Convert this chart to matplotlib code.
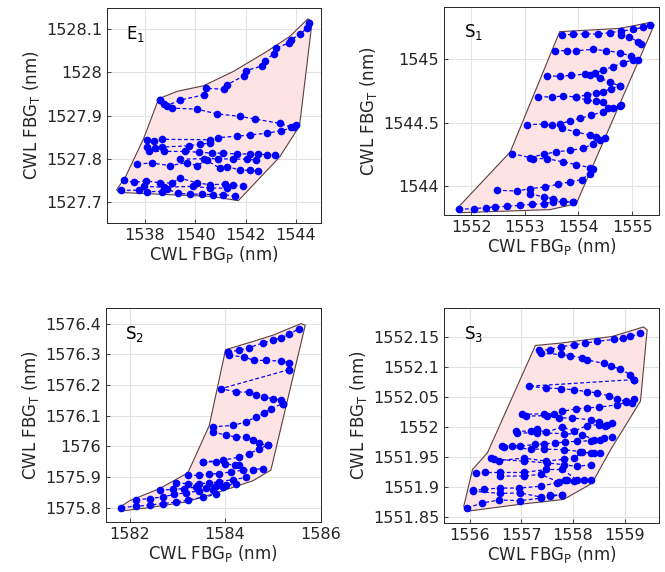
import matplotlib
matplotlib.use("Agg")
import matplotlib.pyplot as plt

plt.rcParams['font.family'] = ['DejaVu Sans']

# ---------------- E1 ----------------
E1_poly_x = [1538.55, 1539.28, 1540.33, 1541.51, 1542.83, 1543.75, 1544.47, 1544.64, 1544.14, 1543.35, 1541.71, 1540.59, 1538.88, 1536.97, 1536.88, 1537.24, 1537.96]
E1_poly_y = [1527.939, 1527.956, 1527.969, 1528.002, 1528.048, 1528.083, 1528.124, 1528.118, 1527.876, 1527.804, 1527.703, 1527.713, 1527.717, 1527.722, 1527.728, 1527.759, 1527.848]
E1_rows_x = [
    [1538.62, 1538.88, 1539.41, 1540.35, 1540.43, 1541.14, 1541.25, 1541.93, 1542.01, 1542.67, 1542.75, 1543.12, 1543.19, 1543.72, 1543.80, 1544.14, 1544.43, 1544.51],
    [1538.62, 1538.75, 1539.08, 1540.06, 1540.85, 1541.77, 1542.37, 1543.35, 1543.81, 1544.01],
    [1538.09, 1538.35, 1538.68, 1540.59, 1540.92, 1541.64, 1542.17, 1542.83, 1543.42, 1543.94],
    [1538.09, 1538.40, 1538.68, 1539.74, 1540.20, 1540.59],
    [1538.16, 1538.75, 1539.60, 1540.13, 1540.66, 1541.12, 1541.64, 1542.17, 1542.50, 1542.83, 1543.15],
    [1539.41, 1540.33, 1540.92, 1541.51, 1542.04, 1542.43],
    [1537.70, 1538.29, 1539.01, 1539.67, 1540.06, 1540.46, 1540.98, 1541.25, 1541.77, 1542.17, 1542.50],
    [1537.17, 1537.57, 1538.03, 1538.62, 1539.08, 1539.41, 1540.06, 1540.59, 1541.18, 1541.51, 1541.91],
    [1537.96, 1538.75, 1539.93, 1540.59, 1541.25],
    [1537.04, 1537.76, 1538.09, 1538.68, 1538.88, 1539.30, 1539.80, 1540.26, 1540.72, 1541.12, 1541.58],
]
E1_rows_y = [
    [1527.936, 1527.923, 1527.936, 1527.948, 1527.963, 1527.961, 1527.971, 1527.992, 1528.004, 1528.015, 1528.027, 1528.043, 1528.056, 1528.068, 1528.075, 1528.088, 1528.102, 1528.115],
    [1527.936, 1527.927, 1527.917, 1527.915, 1527.904, 1527.898, 1527.892, 1527.882, 1527.873, 1527.878],
    [1527.844, 1527.840, 1527.845, 1527.844, 1527.849, 1527.852, 1527.855, 1527.859, 1527.865, 1527.873],
    [1527.828, 1527.824, 1527.827, 1527.830, 1527.834, 1527.836],
    [1527.817, 1527.817, 1527.817, 1527.815, 1527.813, 1527.813, 1527.811, 1527.811, 1527.811, 1527.809, 1527.809],
    [1527.799, 1527.800, 1527.800, 1527.799, 1527.799, 1527.797],
    [1527.788, 1527.790, 1527.784, 1527.791, 1527.784, 1527.796, 1527.778, 1527.782, 1527.774, 1527.773, 1527.772],
    [1527.751, 1527.745, 1527.749, 1527.744, 1527.744, 1527.755, 1527.744, 1527.740, 1527.741, 1527.739, 1527.738],
    [1527.736, 1527.734, 1527.736, 1527.732, 1527.732],
    [1527.727, 1527.727, 1527.724, 1527.724, 1527.730, 1527.720, 1527.718, 1527.718, 1527.717, 1527.717, 1527.713],
]

# ---------------- S1 ----------------
S1_poly_x = [1553.65, 1554.77, 1555.35, 1555.41, 1553.96, 1553.47, 1551.80, 1551.72, 1552.73]
S1_poly_y = [1545.219, 1545.245, 1545.293, 1545.272, 1543.860, 1543.813, 1543.789, 1543.813, 1544.269]
S1_rows_x = [
    [1553.69, 1553.90, 1554.12, 1554.36, 1554.58, 1554.80, 1555.02, 1555.20, 1555.34],
    [1554.80, 1554.95, 1555.10, 1555.17],
    [1553.56, 1553.78, 1553.96, 1554.27, 1554.52, 1554.77, 1554.98, 1555.10],
    [1553.41, 1553.65, 1553.87, 1554.12, 1554.30, 1554.46, 1554.64, 1554.83, 1555.01],
    [1554.21, 1554.40, 1554.58, 1554.77],
    [1553.25, 1553.50, 1553.72, 1553.96, 1554.15, 1554.33, 1554.46, 1554.61, 1554.77],
    [1553.96, 1554.15, 1554.33, 1554.46, 1554.55, 1554.77],
    [1553.04, 1553.35, 1553.50, 1553.65, 1553.84, 1554.02, 1554.24, 1554.46, 1554.64, 1554.80],
    [1553.69, 1553.96, 1554.21, 1554.33, 1554.49],
    [1552.76, 1553.10, 1553.35, 1553.59, 1553.84, 1554.09, 1554.27, 1554.40],
    [1553.16, 1553.41, 1553.72, 1553.96, 1554.21],
    [1552.48, 1552.85, 1553.10, 1553.38, 1553.62, 1553.84, 1554.06, 1554.21, 1554.27],
    [1553.10, 1553.35, 1553.53, 1553.72, 1553.90],
    [1551.77, 1552.05, 1552.27, 1552.45, 1552.67, 1552.91, 1553.13, 1553.35, 1553.53, 1553.72, 1553.90],
]
S1_rows_y = [
    [1545.193, 1545.198, 1545.201, 1545.201, 1545.211, 1545.224, 1545.237, 1545.253, 1545.272],
    [1545.193, 1545.179, 1545.140, 1545.121],
    [1545.069, 1545.069, 1545.069, 1545.079, 1545.069, 1545.053, 1545.026, 1544.995],
    [1544.868, 1544.868, 1544.873, 1544.884, 1544.889, 1544.916, 1544.942, 1544.974, 1544.995],
    [1544.876, 1544.850, 1544.823, 1544.789],
    [1544.704, 1544.704, 1544.710, 1544.704, 1544.718, 1544.731, 1544.744, 1544.770, 1544.789],
    [1544.704, 1544.678, 1544.670, 1544.665, 1544.612, 1544.631],
    [1544.485, 1544.488, 1544.480, 1544.488, 1544.515, 1544.533, 1544.559, 1544.586, 1544.612, 1544.639],
    [1544.454, 1544.427, 1544.401, 1544.388, 1544.375],
    [1544.256, 1544.224, 1544.251, 1544.269, 1544.282, 1544.296, 1544.335, 1544.367],
    [1544.216, 1544.216, 1544.190, 1544.169, 1544.145],
    [1543.966, 1543.960, 1543.979, 1543.992, 1544.013, 1544.032, 1544.050, 1544.098, 1544.137],
    [1543.939, 1543.913, 1543.900, 1543.873, 1543.873],
    [1543.815, 1543.821, 1543.829, 1543.834, 1543.839, 1543.847, 1543.855, 1543.860, 1543.873, 1543.879, 1543.873],
]

# ---------------- S2 ----------------
S2_poly_x = [1584.01, 1584.44, 1585.00, 1585.59, 1585.68, 1584.96, 1584.58, 1583.88, 1583.18, 1582.42, 1581.85, 1581.78, 1582.00, 1582.63, 1583.22, 1583.67]
S2_poly_y = [1576.315, 1576.335, 1576.362, 1576.400, 1576.395, 1575.922, 1575.887, 1575.851, 1575.818, 1575.800, 1575.789, 1575.800, 1575.822, 1575.862, 1575.913, 1576.068]
S2_rows_x = [
    [1584.06, 1584.30, 1584.51, 1584.79, 1585.00, 1585.17, 1585.34, 1585.55],
    [1584.09, 1584.40, 1584.61, 1584.86, 1585.17, 1585.34, 1585.34],
    [1585.34, 1583.92, 1584.23, 1584.51, 1584.65, 1584.82, 1585.00, 1585.17, 1585.21],
    [1583.74, 1584.16, 1584.44, 1584.65, 1584.82, 1584.96, 1585.21],
    [1583.74, 1584.02, 1584.23, 1584.44, 1584.58, 1584.72, 1584.89],
    [1583.53, 1583.95, 1584.30, 1584.51, 1584.72, 1584.89],
    [1583.53, 1583.81, 1583.99, 1584.20, 1584.30],
    [1583.22, 1583.46, 1583.67, 1583.88, 1584.13, 1584.37, 1584.58, 1584.79],
    [1582.98, 1583.22, 1583.46, 1583.67, 1583.88, 1584.16, 1584.44],
    [1582.63, 1582.91, 1583.15, 1583.39, 1583.60, 1583.81, 1584.02, 1584.23],
    [1582.14, 1582.42, 1582.70, 1582.94, 1583.18, 1583.46, 1583.74, 1583.95],
    [1581.83, 1582.14, 1582.42, 1582.70, 1582.98, 1583.22, 1583.53, 1583.81],
]
S2_rows_y = [
    [1576.308, 1576.313, 1576.322, 1576.337, 1576.346, 1576.354, 1576.365, 1576.384],
    [1576.297, 1576.291, 1576.280, 1576.280, 1576.278, 1576.272, 1576.250],
    [1576.250, 1576.188, 1576.177, 1576.177, 1576.166, 1576.161, 1576.155, 1576.150, 1576.139],
    [1576.063, 1576.068, 1576.079, 1576.096, 1576.107, 1576.123, 1576.139],
    [1576.047, 1576.036, 1576.030, 1576.030, 1576.020, 1576.009, 1576.003],
    [1575.949, 1575.954, 1575.965, 1575.976, 1575.992, 1576.003],
    [1575.949, 1575.949, 1575.943, 1575.938, 1575.938],
    [1575.905, 1575.905, 1575.909, 1575.911, 1575.916, 1575.922, 1575.924, 1575.927],
    [1575.880, 1575.878, 1575.878, 1575.880, 1575.884, 1575.891, 1575.898],
    [1575.857, 1575.859, 1575.862, 1575.867, 1575.865, 1575.870, 1575.873, 1575.876],
    [1575.826, 1575.829, 1575.835, 1575.843, 1575.848, 1575.854, 1575.857, 1575.867],
    [1575.800, 1575.804, 1575.808, 1575.813, 1575.818, 1575.824, 1575.833, 1575.843],
]

# ---------------- S3 ----------------
S3_poly_x = [1557.27, 1557.76, 1558.76, 1559.37, 1559.44, 1559.31, 1558.73, 1558.37, 1557.82, 1556.98, 1555.92, 1555.88, 1556.05, 1556.34]
S3_poly_y = [1552.136, 1552.140, 1552.151, 1552.167, 1552.162, 1552.043, 1551.962, 1551.906, 1551.879, 1551.871, 1551.859, 1551.868, 1551.929, 1551.957]
S3_rows_x = [
    [1557.34, 1557.56, 1557.76, 1558.02, 1558.24, 1558.47, 1558.79, 1558.98, 1559.11, 1559.31],
    [1557.37, 1557.76, 1557.95, 1558.18, 1558.27, 1558.60, 1558.73, 1558.92, 1559.11, 1559.18],
    [1559.18, 1557.14, 1557.47, 1557.76, 1558.02, 1558.27, 1558.47, 1558.69, 1558.86, 1559.02, 1559.15],
    [1557.01, 1557.43, 1557.63, 1557.79, 1558.05, 1558.27, 1558.50, 1558.86, 1559.02, 1559.18],
    [1557.08, 1557.50, 1557.72, 1557.98, 1558.34, 1558.50, 1558.63, 1558.76],
    [1556.89, 1557.18, 1557.30, 1557.47, 1557.79, 1558.02, 1558.27, 1558.50, 1558.66],
    [1556.92, 1557.30, 1557.82, 1558.18, 1558.40, 1558.60, 1558.76],
    [1556.63, 1556.82, 1556.98, 1557.27, 1557.43, 1557.66, 1557.85, 1558.08, 1558.34, 1558.53],
    [1556.66, 1557.18, 1557.43, 1557.82, 1558.14, 1558.34, 1558.53],
    [1556.40, 1556.56, 1557.05, 1557.47, 1557.82, 1558.02, 1558.18, 1558.40],
    [1556.47, 1557.05, 1557.50, 1557.82, 1558.08, 1558.34],
    [1556.11, 1556.30, 1556.59, 1557.05, 1557.47, 1557.79, 1558.08, 1558.34],
    [1556.59, 1557.05, 1557.37, 1557.72, 1557.85, 1558.02, 1558.21],
    [1556.05, 1556.27, 1556.59, 1556.95, 1557.37, 1557.69, 1557.89],
    [1556.05, 1556.59, 1556.98, 1557.37, 1557.56, 1557.79],
    [1555.95, 1556.24, 1556.56, 1556.98, 1557.37, 1557.56, 1557.79],
]
S3_rows_y = [
    [1552.128, 1552.129, 1552.134, 1552.137, 1552.140, 1552.143, 1552.146, 1552.148, 1552.151, 1552.156],
    [1552.123, 1552.121, 1552.119, 1552.115, 1552.112, 1552.106, 1552.101, 1552.097, 1552.087, 1552.079],
    [1552.079, 1552.068, 1552.065, 1552.064, 1552.062, 1552.059, 1552.057, 1552.052, 1552.046, 1552.043, 1552.040],
    [1552.021, 1552.022, 1552.022, 1552.026, 1552.030, 1552.032, 1552.033, 1552.037, 1552.041, 1552.046],
    [1552.018, 1552.019, 1552.015, 1552.015, 1552.012, 1552.009, 1552.002, 1552.007],
    [1551.993, 1551.993, 1551.996, 1551.991, 1552.000, 1551.993, 1552.002, 1552.004, 1552.004],
    [1551.990, 1551.990, 1551.989, 1551.987, 1551.979, 1551.982, 1551.984],
    [1551.969, 1551.969, 1551.968, 1551.971, 1551.972, 1551.973, 1551.975, 1551.976, 1551.977, 1551.979],
    [1551.967, 1551.963, 1551.963, 1551.962, 1551.959, 1551.956, 1551.957],
    [1551.948, 1551.944, 1551.948, 1551.943, 1551.946, 1551.948, 1551.958, 1551.957],
    [1551.946, 1551.943, 1551.940, 1551.937, 1551.934, 1551.937],
    [1551.923, 1551.924, 1551.924, 1551.924, 1551.929, 1551.929, 1551.912, 1551.911],
    [1551.918, 1551.918, 1551.921, 1551.908, 1551.912, 1551.909, 1551.911],
    [1551.894, 1551.896, 1551.898, 1551.898, 1551.901, 1551.907, 1551.912],
    [1551.893, 1551.889, 1551.890, 1551.883, 1551.886, 1551.887],
    [1551.865, 1551.873, 1551.878, 1551.877, 1551.881, 1551.884, 1551.887],
]

panels = [
    dict(name='E$_1$', px=E1_poly_x, py=E1_poly_y, rx=E1_rows_x, ry=E1_rows_y,
         xlim=(1536.5, 1545.0), ylim=(1527.651, 1528.149),
         xticks=[1538, 1540, 1542, 1544], yticks=[1527.7, 1527.8, 1527.9, 1528.0, 1528.1],
         ylabels=['1527.7', '1527.8', '1527.9', '1528', '1528.1'],
         pos=[0.161, 0.610, 0.322, 0.376]),
    dict(name='S$_1$', px=S1_poly_x, py=S1_poly_y, rx=S1_rows_x, ry=S1_rows_y,
         xlim=(1551.5, 1555.5), ylim=(1543.77, 1545.415),
         xticks=[1552, 1553, 1554, 1555], yticks=[1544, 1544.5, 1545],
         ylabels=['1544', '1544.5', '1545'],
         pos=[0.668, 0.624, 0.323, 0.364]),
    dict(name='S$_2$', px=S2_poly_x, py=S2_poly_y, rx=S2_rows_x, ry=S2_rows_y,
         xlim=(1581.5, 1586.0), ylim=(1575.752, 1576.45),
         xticks=[1582, 1584, 1586], yticks=[1575.8, 1575.9, 1576.0, 1576.1, 1576.2, 1576.3, 1576.4],
         ylabels=['1575.8', '1575.9', '1576', '1576.1', '1576.2', '1576.3', '1576.4'],
         pos=[0.159, 0.087, 0.323, 0.374]),
    dict(name='S$_3$', px=S3_poly_x, py=S3_poly_y, rx=S3_rows_x, ry=S3_rows_y,
         xlim=(1555.5, 1559.67), ylim=(1551.84, 1552.199),
         xticks=[1556, 1557, 1558, 1559], yticks=[1551.85, 1551.9, 1551.95, 1552.0, 1552.05, 1552.1, 1552.15],
         ylabels=['1551.85', '1551.9', '1551.95', '1552', '1552.05', '1552.1', '1552.15'],
         pos=[0.668, 0.086, 0.323, 0.376]),
]

fig = plt.figure(figsize=(6.65, 5.72), dpi=100)
for p in panels:
    ax = fig.add_axes(p['pos'])
    ax.fill(p['px'], p['py'], facecolor='#fde3e3', edgecolor='#5a4040', linewidth=0.8, zorder=1)
    for xs, ys in zip(p['rx'], p['ry']):
        ax.plot(xs, ys, color='blue', linestyle=(0, (3, 2)), linewidth=0.9,
                marker='o', markersize=5.5, markeredgewidth=0, zorder=3)
    ax.set_xlim(*p['xlim'])
    ax.set_ylim(*p['ylim'])
    ax.set_xticks(p['xticks'])
    ax.set_xticklabels([str(t) for t in p['xticks']])
    ax.set_yticks(p['yticks'])
    ax.set_yticklabels(p['ylabels'])
    ax.grid(True, color='#e3e3e3', linewidth=0.8, zorder=0)
    ax.set_axisbelow(True)
    ax.tick_params(direction='in', length=3, width=0.6, labelsize=11.5, colors='#262626')
    for s in ax.spines.values():
        s.set_color('#262626')
        s.set_linewidth(0.7)
    ax.set_xlabel('CWL FBG$_\\mathrm{P}$ (nm)', fontsize=12, color='#262626', labelpad=1)
    ax.set_ylabel('CWL FBG$_\\mathrm{T}$ (nm)', fontsize=12, color='#262626', labelpad=3)
    ax.text(0.09, 0.88, p['name'], transform=ax.transAxes, fontsize=12,
            ha='left', va='center', color='black')

fig.savefig('out.png', dpi=100)
